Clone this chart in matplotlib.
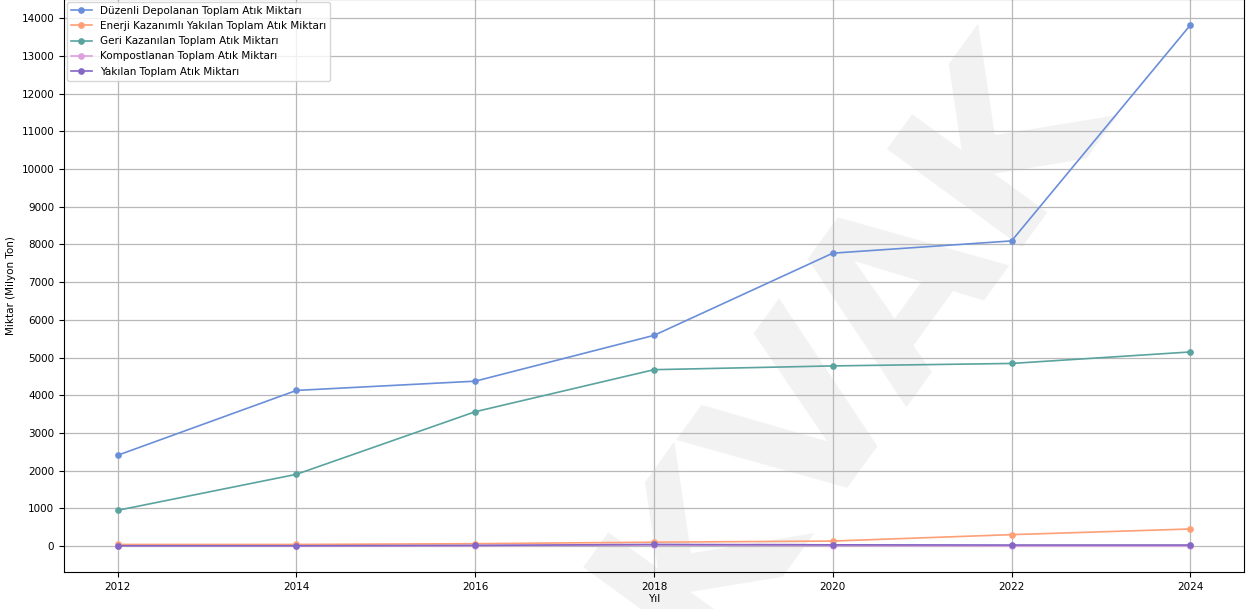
import matplotlib
matplotlib.use("Agg")
import matplotlib.pyplot as plt
from matplotlib.ticker import MultipleLocator

years = [2012, 2014, 2016, 2018, 2020, 2022, 2024]
duzenli = [2410, 4130, 4375, 5590, 7770, 8095, 13820]
enerji = [45, 45, 65, 105, 135, 305, 455]
geri = [950, 1905, 3565, 4680, 4780, 4845, 5150]
kompost = [5, 5, 10, 30, 15, 5, 5]
yakilan = [10, 10, 20, 45, 35, 30, 30]

series = [
    ("Düzenli Depolanan Toplam Atık Miktarı", duzenli, "#6a8fd8"),
    ("Enerji Kazanımlı Yakılan Toplam Atık Miktarı", enerji, "#ff9f75"),
    ("Geri Kazanılan Toplam Atık Miktarı", geri, "#5aa39f"),
    ("Kompostlanan Toplam Atık Miktarı", kompost, "#dda0dd"),
    ("Yakılan Toplam Atık Miktarı", yakilan, "#8466c4"),
]

plt.rcParams["font.family"] = ["DejaVu Sans"]
plt.rcParams["font.size"] = 7.5

fig = plt.figure(figsize=(12.47, 6.09), dpi=100)
ax = fig.add_axes([64 / 1247, 37 / 609, 1180 / 1247, 573 / 609])
ax.set_facecolor("none")

# faint watermark behind the plot area
fig.text(0.682, 0.43, "KVAK", fontsize=165, fontweight="bold",
         color="#f2f2f2", rotation=54, ha="center", va="center",
         rotation_mode="anchor", zorder=-5)

for label, vals, color in series:
    ax.plot(years, vals, marker="o", markersize=3.8, linewidth=1.2,
            color=color, label=label)

ax.yaxis.set_major_locator(MultipleLocator(1000))
ax.xaxis.set_major_locator(MultipleLocator(2))
ax.grid(True, color="#b8b8b8", linewidth=0.9)
ax.set_axisbelow(True)
ax.set_xlabel("Yıl", labelpad=2)
ax.set_ylabel("Miktar (Milyon Ton)")
ax.legend(loc="upper left", fontsize=7.5, borderaxespad=0.25)

fig.savefig("out.png", dpi=100)
